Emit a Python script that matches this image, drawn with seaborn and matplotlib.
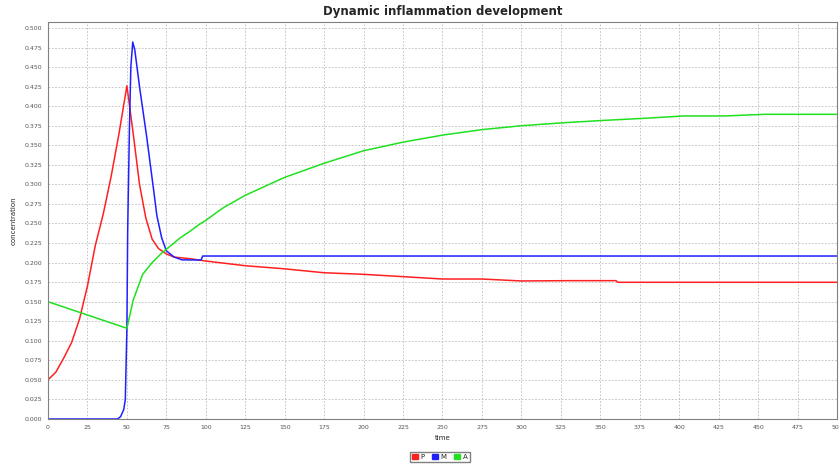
import numpy as np
import pandas as pd
import seaborn as sns
import matplotlib.pyplot as plt
from matplotlib.patches import Patch
from matplotlib.ticker import FormatStrFormatter

# values
p_time = [0, 5, 10, 15, 20, 25, 30, 35, 40, 45, 50, 54, 58, 62, 66, 70, 75, 80, 90,
          100, 125, 150, 175, 200, 225, 250, 275, 300, 330, 360, 361, 400, 450, 500]
p_conc = [0.050, 0.060, 0.078, 0.098, 0.128, 0.170, 0.222, 0.262, 0.310, 0.365, 0.426,
          0.365, 0.300, 0.257, 0.230, 0.218, 0.211, 0.207, 0.205,
          0.202, 0.196, 0.192, 0.187, 0.185, 0.182, 0.179, 0.179, 0.1765, 0.1769,
          0.1769, 0.1748, 0.1748, 0.1748, 0.1748]

m_time = [0, 44, 46, 48, 49, 50, 50.5, 51, 51.6, 52.5, 53.7, 55, 58, 62.6, 66.8, 69,
          72, 75, 80, 85, 97, 98, 200, 300, 400, 500]
m_conc = [0.0, 0.0, 0.003, 0.012, 0.025, 0.115, 0.240, 0.300, 0.370, 0.450, 0.482,
          0.472, 0.425, 0.360, 0.295, 0.260, 0.232, 0.215, 0.207, 0.2035, 0.2033,
          0.2084, 0.2084, 0.2084, 0.2084, 0.2084]

a_time = [0, 25, 50, 54, 60, 66, 72, 78, 84, 90, 96, 100, 111, 125, 150, 175, 200,
          225, 250, 275, 300, 328, 354, 378, 403, 429, 454, 500]
a_conc = [0.150, 0.133, 0.116, 0.152, 0.185, 0.200, 0.212, 0.222, 0.232, 0.240,
          0.249, 0.254, 0.270, 0.286, 0.309, 0.327, 0.343, 0.354, 0.363, 0.370,
          0.375, 0.379, 0.382, 0.3845, 0.3875, 0.3875, 0.3896, 0.3896]

series_names = ['P', 'M', 'A']
colors = {'P': '#ff2020', 'M': '#2020ff', 'A': '#20e020'}

df = pd.concat([
    pd.DataFrame({'time': p_time, 'conc': p_conc, 'series': 'P'}),
    pd.DataFrame({'time': m_time, 'conc': m_conc, 'series': 'M'}),
    pd.DataFrame({'time': a_time, 'conc': a_conc, 'series': 'A'}),
])

sns.set_style('white')
plt.rcParams['font.family'] = ['DejaVu Sans']

fig = plt.figure(figsize=(8.39, 4.68), dpi=100)
ax = fig.add_axes([0.0572, 0.1047, 0.9404, 0.8489])

sns.lineplot(data=df, x='time', y='conc', hue='series', palette=colors,
             estimator=None, sort=False, legend=False, linewidth=1.1, ax=ax)

ax.set_xlim(0, 500)
ax.set_ylim(0, 0.508)
ax.set_xticks(np.arange(0, 501, 25))
ax.set_yticks(np.arange(0, 0.501, 0.025))
ax.yaxis.set_major_formatter(FormatStrFormatter('%.3f'))
ax.tick_params(labelsize=4.5, length=2, width=0.6, colors='#555555', pad=2)
ax.grid(True, color='#bbbbbb', linestyle=(0, (2, 2)), linewidth=0.6)
for s in ax.spines.values():
    s.set_color('#808080')
    s.set_linewidth(0.8)

ax.set_title('Dynamic inflammation development', fontsize=8.5, fontweight='bold', pad=5)
ax.set_xlabel('time', fontsize=5, labelpad=4)
ax.set_ylabel('concentration', fontsize=5, labelpad=6)

handles = [Patch(facecolor=colors[n], edgecolor=colors[n], label=n) for n in series_names]
fig.legend(handles=handles, loc='center', bbox_to_anchor=(0.524, 0.024), ncol=3,
           fontsize=5, handlelength=0.9, handleheight=0.9, handletextpad=0.4,
           columnspacing=1.0, borderpad=0.3, fancybox=False, edgecolor='#808080',
           framealpha=1)

fig.savefig('out.png', dpi=100)
